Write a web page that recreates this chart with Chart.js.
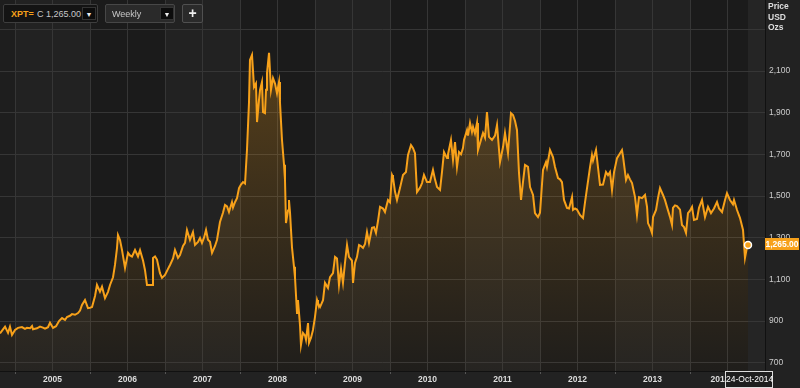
<!DOCTYPE html>
<html><head><meta charset="utf-8">
<script src="https://cdn.jsdelivr.net/npm/chart.js@4.4.0/dist/chart.umd.min.js"></script>
<style>
html,body{margin:0;padding:0;background:#222;overflow:hidden;}
#wrap{position:relative;width:800px;height:388px;}
#c{position:absolute;left:0;top:0;}
.ov{position:absolute;font-family:"Liberation Sans",Arial,sans-serif;white-space:nowrap;box-sizing:border-box;}
.box{border:1px solid #3e3e3e;border-radius:2px;}
.btn{position:absolute;top:2px;width:14px;height:13px;background:#0c0c0c;border:1px solid #333;color:#eee;font-size:7px;line-height:13px;text-align:center;box-sizing:border-box;}
</style></head>
<body><div id="wrap">
<canvas id="c" width="800" height="388"></canvas>
<div class="ov box" style="left:3px;top:4px;width:95px;height:19px;background:#141414;">
  <span style="position:absolute;left:7px;top:4px;font-size:9px;font-weight:bold;color:#f7a11a;">XPT=</span>
  <span style="position:absolute;left:33px;top:4px;font-size:9px;color:#c8c8c8;">C 1,265.00</span>
  <div class="btn" style="left:78px;">&#9660;</div>
</div>
<div class="ov box" style="left:105px;top:4px;width:70px;height:19px;background:#2a2a2a;border-color:#474747;">
  <span style="position:absolute;left:6px;top:4px;font-size:9px;color:#c8c8c8;">Weekly</span>
  <div class="btn" style="left:54px;">&#9660;</div>
</div>
<div class="ov box" style="left:182px;top:4px;width:21px;height:19px;background:#2a2a2a;border-color:#505050;color:#eee;font-size:14px;font-weight:bold;line-height:16px;text-align:center;">+</div>
<div class="ov" style="left:768px;top:1px;font-size:8.5px;font-weight:bold;color:#ddd;line-height:10.5px;">Price<br>USD<br>Ozs</div>
<div class="ov" style="left:765px;top:238px;width:34px;height:12px;background:#f7a11a;color:#fff;font-size:8.5px;font-weight:bold;line-height:12px;text-align:center;">1,265.00</div>
<div class="ov" style="left:725px;top:371px;width:48px;height:17px;background:#1e1e1e;border:1px solid #ddd;color:#fff;font-size:8.5px;line-height:15px;text-align:center;">24-Oct-2014</div>
</div>
<script>
const dates = [2004.800,2004.840,2004.867,2004.907,2004.933,2004.960,2005.000,2005.040,2005.093,2005.133,2005.160,2005.200,2005.227,2005.240,2005.293,2005.333,2005.373,2005.400,2005.440,2005.467,2005.507,2005.547,2005.587,2005.627,2005.667,2005.693,2005.733,2005.760,2005.800,2005.840,2005.867,2005.893,2005.933,2005.973,2006.000,2006.027,2006.067,2006.093,2006.133,2006.160,2006.200,2006.240,2006.267,2006.307,2006.333,2006.360,2006.373,2006.400,2006.427,2006.467,2006.507,2006.533,2006.560,2006.600,2006.640,2006.667,2006.707,2006.733,2006.760,2006.800,2006.827,2006.840,2006.867,2006.893,2006.933,2006.960,2007.000,2007.040,2007.067,2007.107,2007.133,2007.173,2007.200,2007.240,2007.267,2007.293,2007.333,2007.373,2007.400,2007.440,2007.467,2007.493,2007.520,2007.547,2007.573,2007.600,2007.627,2007.667,2007.693,2007.733,2007.773,2007.800,2007.827,2007.853,2007.893,2007.907,2007.933,2007.960,2007.987,2008.013,2008.040,2008.067,2008.093,2008.120,2008.133,2008.160,2008.187,2008.213,2008.227,2008.253,2008.267,2008.293,2008.307,2008.333,2008.347,2008.360,2008.387,2008.413,2008.440,2008.467,2008.493,2008.520,2008.533,2008.560,2008.587,2008.600,2008.613,2008.640,2008.653,2008.667,2008.693,2008.720,2008.733,2008.760,2008.773,2008.800,2008.813,2008.840,2008.867,2008.880,2008.907,2008.920,2008.947,2008.973,2009.000,2009.027,2009.040,2009.067,2009.107,2009.133,2009.173,2009.200,2009.240,2009.267,2009.293,2009.320,2009.347,2009.373,2009.400,2009.427,2009.453,2009.493,2009.507,2009.533,2009.560,2009.587,2009.613,2009.640,2009.667,2009.693,2009.720,2009.760,2009.787,2009.813,2009.840,2009.867,2009.907,2009.933,2009.973,2010.000,2010.027,2010.040,2010.067,2010.093,2010.133,2010.173,2010.213,2010.240,2010.280,2010.307,2010.333,2010.360,2010.400,2010.427,2010.453,2010.493,2010.533,2010.573,2010.600,2010.627,2010.667,2010.693,2010.720,2010.760,2010.773,2010.813,2010.840,2010.867,2010.893,2010.920,2010.947,2010.973,2010.987,2011.027,2011.040,2011.067,2011.093,2011.107,2011.133,2011.160,2011.173,2011.200,2011.240,2011.267,2011.293,2011.320,2011.360,2011.400,2011.427,2011.467,2011.507,2011.533,2011.573,2011.613,2011.640,2011.667,2011.693,2011.720,2011.747,2011.773,2011.800,2011.840,2011.867,2011.907,2011.933,2011.973,2012.000,2012.040,2012.080,2012.093,2012.133,2012.173,2012.200,2012.240,2012.267,2012.293,2012.320,2012.360,2012.387,2012.427,2012.440,2012.467,2012.493,2012.533,2012.573,2012.600,2012.627,2012.667,2012.693,2012.707,2012.747,2012.773,2012.800,2012.840,2012.880,2012.907,2012.933,2012.960,2012.987,2013.027,2013.053,2013.093,2013.107,2013.147,2013.173,2013.200,2013.227,2013.267,2013.293,2013.320,2013.360,2013.400,2013.427,2013.440,2013.467,2013.493,2013.507,2013.547,2013.573,2013.600,2013.640,2013.667,2013.693,2013.733,2013.760,2013.773,2013.800,2013.827,2013.867,2013.893,2013.920,2013.947,2013.973,2014.000,2014.027,2014.053,2014.093,2014.120,2014.160,2014.200,2014.240,2014.280,2014.320,2014.360,2014.387,2014.427,2014.467,2014.493,2014.533,2014.573,2014.587,2014.627,2014.667,2014.707,2014.733,2014.760,2014.773];
const prices = [840,860,873,843,873,833,857,867,871,862,867,865,876,860,865,873,868,863,870,892,867,875,900,914,905,919,925,933,930,938,950,977,1001,962,963,967,1020,1073,1041,1065,1010,1040,1073,1110,1169,1250,1313,1289,1240,1155,1227,1215,1209,1241,1210,1240,1190,1145,1073,1073,1073,1203,1210,1195,1130,1107,1121,1150,1169,1200,1241,1203,1217,1260,1275,1337,1289,1327,1265,1280,1299,1275,1300,1337,1290,1280,1227,1260,1289,1375,1420,1457,1450,1423,1471,1445,1470,1490,1538,1555,1567,1560,1721,1950,2153,2177,2023,2040,1855,1960,2009,2047,1903,1898,2010,2090,2187,2009,2066,2040,1994,2047,1950,1769,1650,1577,1370,1430,1481,1420,1255,1160,1111,938,1001,880,785,843,830,810,890,795,820,857,920,1001,985,967,1000,1083,1059,1111,1130,1208,1200,1073,1150,1083,1180,1265,1208,1190,1083,1179,1208,1265,1260,1251,1270,1327,1275,1347,1350,1323,1380,1448,1440,1423,1481,1470,1601,1590,1520,1481,1538,1601,1615,1697,1745,1730,1706,1519,1540,1562,1601,1567,1567,1625,1580,1543,1529,1615,1711,1682,1700,1769,1673,1759,1639,1711,1700,1730,1769,1817,1790,1851,1808,1832,1800,1851,1721,1754,1803,1780,1903,1784,1769,1790,1841,1663,1735,1803,1706,1898,1889,1860,1817,1611,1481,1567,1649,1640,1543,1505,1418,1399,1420,1625,1663,1640,1721,1687,1639,1586,1580,1567,1481,1443,1440,1495,1433,1440,1435,1409,1394,1470,1538,1639,1697,1670,1721,1639,1553,1555,1615,1600,1615,1529,1615,1682,1697,1721,1690,1577,1601,1580,1562,1495,1409,1495,1490,1505,1448,1370,1350,1323,1399,1433,1490,1538,1505,1480,1448,1400,1361,1443,1455,1452,1435,1361,1351,1323,1418,1430,1448,1385,1390,1443,1481,1399,1448,1418,1440,1471,1440,1423,1481,1514,1481,1460,1481,1433,1394,1337,1203,1255,1265];
const yTicks = [700,900,1100,1300,1500,1700,1900,2100,2300];
const xGridYears = [2005,2005.5,2006,2006.5,2007,2007.5,2008,2008.5,2009,2009.5,2010,2010.5,2011,2011.5,2012,2012.5,2013,2013.5,2014,2014.5,2015];
const yearLabels = ['2005','2006','2007','2008','2009','2010','2011','2012','2013','2014'];
const yearLabelPos = [2005.5,2006.5,2007.5,2008.5,2009.5,2010.5,2011.5,2012.5,2013.5,2014.4];
const columnYears = [2005,2006,2007,2008,2009,2010,2011,2012,2013,2014];

const ORANGE = '#f7a11a';
const zeroPad = (s)=>{ s.paddingTop=0; s.paddingBottom=0; s.paddingLeft=0; s.paddingRight=0; };
const bgPlugin = {
  id:'bg',
  beforeDraw(chart){
    const {ctx, chartArea:a, scales:{x}} = chart;
    ctx.save();
    ctx.fillStyle = '#222222';
    ctx.fillRect(0,0,chart.width,chart.height);
    ctx.fillStyle = '#1e1e1e';
    ctx.fillRect(a.left,a.top,a.right-a.left,a.bottom-a.top);
    columnYears.forEach(yr=>{
      const l = Math.max(a.left, x.getPixelForValue(yr));
      const r = Math.min(a.right, x.getPixelForValue(yr+1));
      ctx.fillStyle = (yr%2===1) ? '#222222' : '#1b1b1b';
      ctx.fillRect(l,a.top,r-l,a.bottom-a.top);
    });
    const lx = x.getPixelForValue(dates[dates.length-1]);
    ctx.fillStyle = '#252525';
    ctx.fillRect(lx,a.top,a.right-lx,a.bottom-a.top);
    ctx.restore();
  }
};

const allXTicks = Array.from(new Set(xGridYears.concat(yearLabelPos))).sort((p,q)=>p-q);
const isGrid = (v)=> xGridYears.some(g=>Math.abs(g-v)<1e-6);

new Chart(document.getElementById('c'), {
  type:'line',
  data:{datasets:[{
    data: dates.map((d,i)=>({x:d,y:prices[i]})),
    borderColor: ORANGE,
    borderWidth: 2,
    tension: 0,
    fill: 'start',
    backgroundColor: (ctx)=>{
      const a = ctx.chart.chartArea;
      if(!a) return 'rgba(247,161,26,0.15)';
      const g = ctx.chart.ctx.createLinearGradient(0,a.top,0,a.bottom);
      g.addColorStop(0,'rgba(247,161,26,0.32)');
      g.addColorStop(0.5,'rgba(247,161,26,0.16)');
      g.addColorStop(1,'rgba(247,161,26,0.02)');
      return g;
    },
    pointRadius: (ctx)=> ctx.dataIndex===prices.length-1 ? 3.5 : 0,
    pointBackgroundColor: ORANGE,
    pointBorderColor: '#ffffff',
    pointBorderWidth: 1.5
  }]},
  options:{
    responsive:false, animation:false, devicePixelRatio:1,
    layout:{padding:0, autoPadding:false},
    plugins:{legend:{display:false}, tooltip:{enabled:false}},
    scales:{
      x:{
        type:'linear', min:2004.8, max:2015,
        afterBuildTicks:(s)=>{ s.ticks = allXTicks.map(v=>({value:v})); },
        afterFit:(s)=>{ s.height = 17; zeroPad(s); },
        grid:{lineWidth:1, drawTicks:true, tickLength:3,
              color:(c)=> (c.tick && isGrid(c.tick.value)) ? '#363636' : 'rgba(0,0,0,0)',
              tickColor:(c)=> (c.tick && c.tick.value%1===0) ? '#555' : 'rgba(0,0,0,0)'},
        border:{color:'#111', width:1},
        ticks:{autoSkip:false, maxRotation:0, padding:1, color:'#dddddd',
               font:{family:'"Liberation Sans", Arial, sans-serif', size:8.5, weight:'bold'},
               callback:(v)=>{
                 const k = yearLabelPos.findIndex(p=>Math.abs(p-v)<1e-6);
                 if(k<0) return '';
                 if(k===yearLabelPos.length-1 || Math.abs(v-yearLabelPos[k])<1e-6 && !(k===yearLabelPos.length-1)) {}
                 return (k>=0 && (k===yearLabelPos.length-1 || !isGrid(v) || v%1!==0)) ? yearLabels[k] : '';
               }}
      },
      y:{
        type:'linear', position:'right', min:660, max:2441,
        afterBuildTicks:(s)=>{ s.ticks = yTicks.map(v=>({value:v})); },
        afterFit:(s)=>{ s.width = 35; zeroPad(s); },
        grid:{color:'#363636', lineWidth:1, drawTicks:false},
        border:{color:'#111', width:1},
        ticks:{padding:4, color:'#cccccc',
               font:{family:'"Liberation Sans", Arial, sans-serif', size:8.5},
               callback:(v)=> v===2300 ? '' : v.toLocaleString('en-US')}
      }
    }
  },
  plugins:[bgPlugin]
});
</script>
</body></html>
